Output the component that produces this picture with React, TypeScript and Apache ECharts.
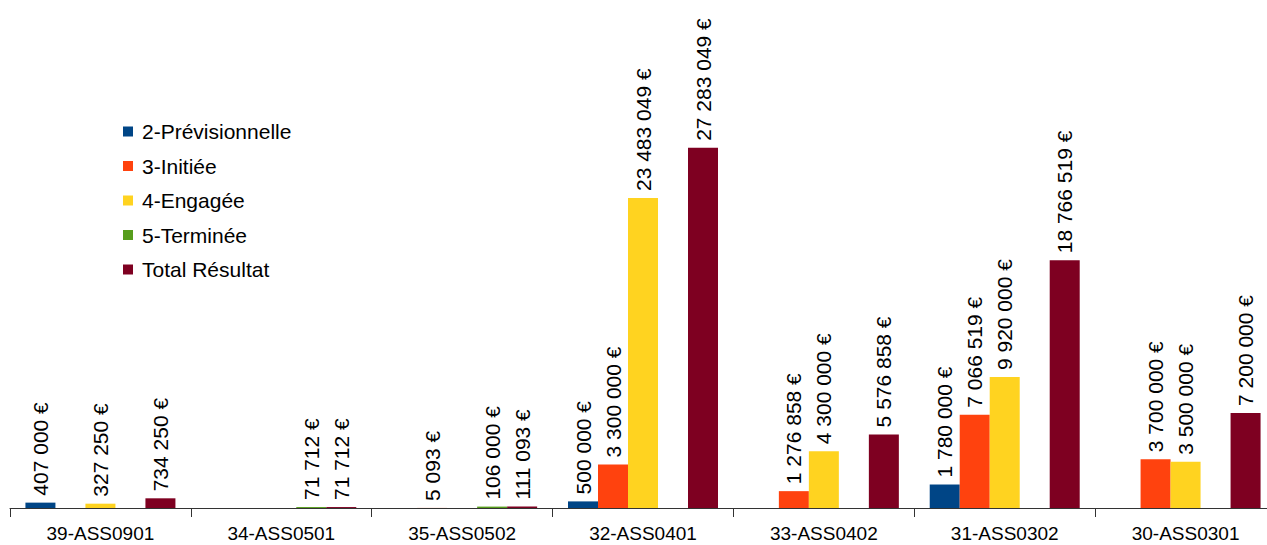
import React, { useEffect, useRef } from "react";
import * as echarts from "echarts";

const categories = [
  "39-ASS0901",
  "34-ASS0501",
  "35-ASS0502",
  "32-ASS0401",
  "33-ASS0402",
  "31-ASS0302",
  "30-ASS0301",
];
const seriesNames = ["2-Prévisionnelle", "3-Initiée", "4-Engagée", "5-Terminée", "Total Résultat"];
const previsionnelle = [407000, null, null, 500000, null, 1780000, null];
const initiee = [null, null, 5093, 3300000, 1276858, 7066519, 3700000];
const engagee = [327250, null, null, 23483049, 4300000, 9920000, 3500000];
const terminee = [null, 71712, 106000, null, null, null, null];
const total = [734250, 71712, 111093, 27283049, 5576858, 18766519, 7200000];
const colors = ["#004586", "#ff420e", "#ffd320", "#579d1c", "#7e0021"];

const FONT = "'Liberation Sans', Arial, sans-serif";

function fmt(v: number): string {
  return String(Math.round(v)).replace(/\B(?=(\d{3})+(?!\d))/g, " ") + " €";
}

export default function App() {
  const ref = useRef<HTMLDivElement>(null);
  useEffect(() => {
    if (!ref.current) return;
    const chart = echarts.init(ref.current, null, { renderer: "svg" });
    const allData = [previsionnelle, initiee, engagee, terminee, total];
    chart.setOption({
      animation: false,
      backgroundColor: "#ffffff",
      textStyle: { fontFamily: FONT },
      legend: {
        orient: "vertical",
        left: 118,
        top: 116,
        itemWidth: 10,
        itemHeight: 10,
        itemGap: 13.5,
        icon: "rect",
        data: seriesNames,
        textStyle: {
          fontFamily: FONT,
          fontSize: 21,
          color: "#000",
          lineHeight: 20,
          padding: [0, 0, 0, 4],
        },
      },
      grid: { left: 10, width: 1266, top: 112, height: 396, containLabel: false },
      xAxis: {
        type: "category",
        data: categories,
        boundaryGap: true,
        axisLine: { lineStyle: { color: "#333", width: 1 } },
        axisTick: { show: true, length: 9, alignWithLabel: false, lineStyle: { color: "#333" } },
        axisLabel: { fontFamily: FONT, fontSize: 19, color: "#000", margin: 16, interval: 0 },
      },
      yAxis: {
        type: "value",
        min: 0,
        max: 30000000,
        show: false,
        splitLine: { show: false },
      },
      series: allData.map((d, i) => ({
        name: seriesNames[i],
        type: "bar",
        data: d,
        barWidth: 30,
        barGap: "0%",
        itemStyle: { color: colors[i] },
        label: {
          show: true,
          position: "top",
          rotate: 90,
          align: "left",
          verticalAlign: "middle",
          distance: 7,
          fontFamily: FONT,
          fontSize: 21,
          color: "#000",
          formatter: (p: any) => (p.value == null ? "" : fmt(p.value)),
        },
      })),
    });
    return () => chart.dispose();
  }, []);
  return (
    <div
      ref={ref}
      style={{ position: "fixed", left: 0, top: 0, width: 1290, height: 545 }}
    />
  );
}
